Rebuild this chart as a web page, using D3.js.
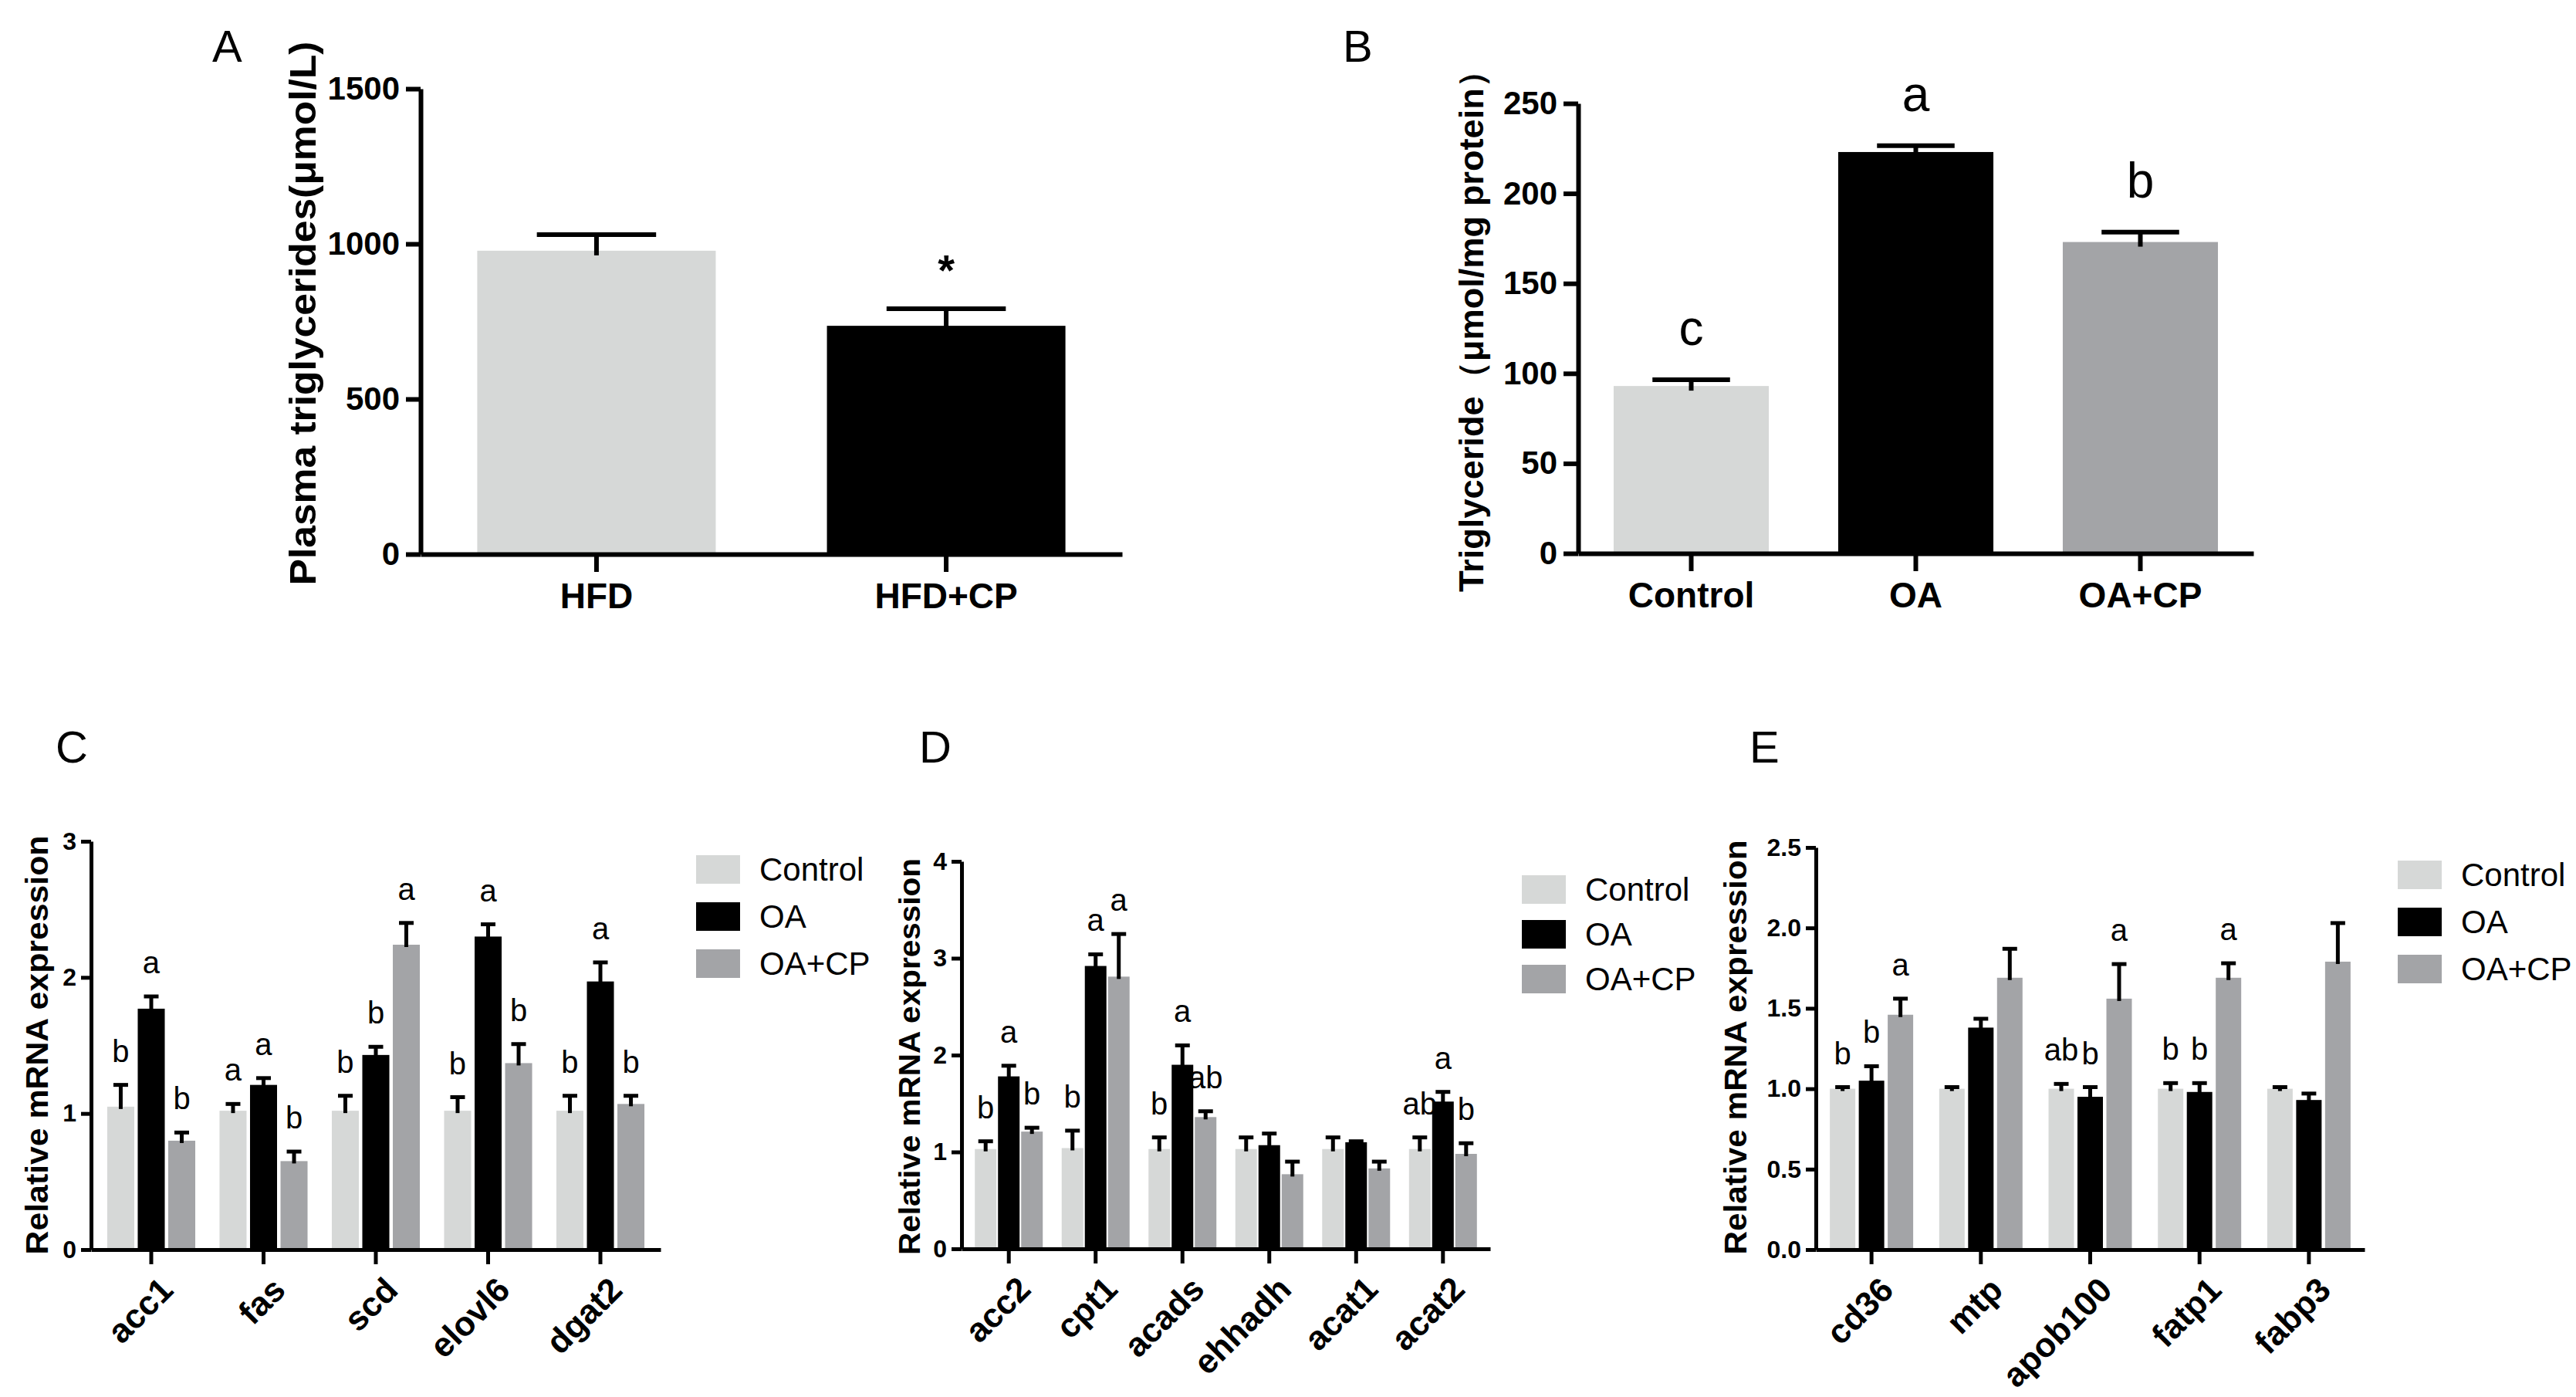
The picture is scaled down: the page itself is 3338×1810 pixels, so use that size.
<!DOCTYPE html>
<html>
<head>
<meta charset="utf-8">
<script src="https://cdn.jsdelivr.net/npm/d3@7"></script>
<style>
  body { margin: 0; background: #fff; }
  svg { display: block; font-family: "Liberation Sans", Arial, sans-serif; }
</style>
</head>
<body>
<svg width="3338" height="1810"></svg>
<script>
// ---- data ----
const series = ["Control", "OA", "OA+CP"];
const colors = ["#d6d8d7", "#000000", "#a3a4a7"];

const groupsA = ["HFD", "HFD+CP"];
const meanA = [978, 736];
const semA = [52, 55];
const ticksA = [0, 500, 1000, 1500];

const groupsB = ["Control", "OA", "OA+CP"];
const meanB = [93, 223, 173];
const semB = [3.5, 3.5, 5.5];
const lettersB = ["c", "a", "b"];
const ticksB = [0, 50, 100, 150, 200, 250];

const genesC = ["acc1", "fas", "scd", "elovl6", "dgat2"];
const ctrlC = [1.05, 1.02, 1.02, 1.02, 1.02];
const oaC = [1.77, 1.21, 1.43, 2.30, 1.97];
const cpC = [0.80, 0.65, 2.24, 1.37, 1.07];
const ctrlSemC = [0.16, 0.05, 0.11, 0.10, 0.11];
const oaSemC = [0.09, 0.05, 0.06, 0.09, 0.14];
const cpSemC = [0.06, 0.07, 0.16, 0.14, 0.06];
const ctrlLetC = ["b", "a", "b", "b", "b"];
const oaLetC = ["a", "a", "b", "a", "a"];
const cpLetC = ["b", "b", "a", "b", "b"];
const ticksC = [0, 1, 2, 3];

const genesD = ["acc2", "cpt1", "acads", "ehhadh", "acat1", "acat2"];
const ctrlD = [1.03, 1.04, 1.03, 1.03, 1.03, 1.03];
const oaD = [1.78, 2.92, 1.90, 1.07, 1.10, 1.52];
const cpD = [1.21, 2.81, 1.36, 0.77, 0.83, 0.98];
const ctrlSemD = [0.08, 0.18, 0.12, 0.12, 0.12, 0.12];
const oaSemD = [0.11, 0.12, 0.20, 0.12, 0.01, 0.10];
const cpSemD = [0.04, 0.44, 0.06, 0.13, 0.07, 0.11];
const ctrlLetD = ["b", "b", "b", "", "", "ab"];
const oaLetD = ["a", "a", "a", "", "", "a"];
const cpLetD = ["b", "a", "ab", "", "", "b"];
const ticksD = [0, 1, 2, 3, 4];

const genesE = ["cd36", "mtp", "apob100", "fatp1", "fabp3"];
const ctrlE = [1.0, 1.0, 1.0, 1.0, 1.0];
const oaE = [1.05, 1.38, 0.95, 0.98, 0.93];
const cpE = [1.46, 1.69, 1.56, 1.69, 1.79];
const ctrlSemE = [0.01, 0.01, 0.03, 0.035, 0.01];
const oaSemE = [0.09, 0.055, 0.06, 0.055, 0.04];
const cpSemE = [0.10, 0.18, 0.215, 0.09, 0.24];
const ctrlLetE = ["b", "", "ab", "b", ""];
const oaLetE = ["b", "", "b", "b", ""];
const cpLetE = ["a", "", "a", "a", ""];
const ticksE = [0, 0.5, 1.0, 1.5, 2.0, 2.5];

const svg = d3.select("svg");
svg.append("rect").attr("width", 3338).attr("height", 1810).attr("fill", "#fff");

function styleAxis(g, sw, fs) {
    g.selectAll("path, line").attr("stroke", "#000").attr("stroke-width", sw);
    g.selectAll("text").attr("fill", "#000").style("font-size", fs + "px").style("font-weight", "bold");
}

function yTitle(text, cx, cy, fs, len) {
    svg.append("text")
        .attr("transform", `translate(${cx},${cy}) rotate(-90)`)
        .attr("dy", "0.35em")
        .attr("text-anchor", "middle")
        .attr("textLength", len)
        .attr("lengthAdjust", "spacingAndGlyphs")
        .style("font-size", fs + "px")
        .style("font-weight", "bold")
        .text(text);
}

function panelLabel(t, x, y) {
    svg.append("text").attr("x", x).attr("y", y)
        .style("font-size", "58px").text(t);
}

// simple bar chart (panels A, B)
function simplePanel(o) {
    const x = d3.scaleBand().domain(o.groups).range(o.xr)
        .paddingInner(o.pi).paddingOuter(o.po);
    const y = d3.scaleLinear().domain([0, o.max]).range(o.yr);
    const g = svg.append("g");
    const bw = x.bandwidth();

    g.selectAll("rect.bar").data(o.groups).join("rect")
        .attr("x", d => x(d))
        .attr("y", (d, i) => y(o.mean[i]))
        .attr("width", bw)
        .attr("height", (d, i) => y(0) - y(o.mean[i]))
        .attr("fill", (d, i) => o.fill[i]);

    const eb = g.selectAll("g.err").data(o.groups).join("g");
    eb.append("line")
        .attr("x1", d => x(d) + bw / 2).attr("x2", d => x(d) + bw / 2)
        .attr("y1", (d, i) => y(o.mean[i]) + 6)
        .attr("y2", (d, i) => y(o.mean[i] + o.sem[i]))
        .attr("stroke", "#000").attr("stroke-width", 6);
    eb.append("line")
        .attr("x1", d => x(d) + bw / 4).attr("x2", d => x(d) + bw * 3 / 4)
        .attr("y1", (d, i) => y(o.mean[i] + o.sem[i]))
        .attr("y2", (d, i) => y(o.mean[i] + o.sem[i]))
        .attr("stroke", "#000").attr("stroke-width", 6);

    g.selectAll("text.lab").data(o.groups).join("text")
        .attr("x", d => x(d) + bw / 2)
        .attr("y", (d, i) => y(o.mean[i] + o.sem[i]) - o.labOff)
        .attr("text-anchor", "middle")
        .style("font-size", o.labSize + "px")
        .style("font-weight", o.labBold ? "bold" : "normal")
        .text((d, i) => o.labels[i]);

    const ya = g.append("g").attr("transform", `translate(${o.xr[0]},0)`)
        .call(d3.axisLeft(y).tickValues(o.ticks).tickSize(19).tickSizeOuter(0).tickPadding(8)
            .tickFormat(d3.format("d")));
    styleAxis(ya, 6, 42);
    const xa = g.append("g").attr("transform", `translate(0,${y(0)})`)
        .call(d3.axisBottom(x).tickSize(23).tickSizeOuter(0).tickPadding(14));
    styleAxis(xa, 6, 46);
}

// grouped bar chart (panels C, D, E)
function groupedPanel(o) {
    const x0 = d3.scaleBand().domain(o.genes).range(o.xr)
        .paddingInner(o.pi).paddingOuter(o.po);
    const x1 = d3.scaleBand().domain(series).range([0, x0.bandwidth()]).paddingInner(o.pb);
    const y = d3.scaleLinear().domain([0, o.max]).range(o.yr);
    const g = svg.append("g");
    const bw = x1.bandwidth();

    const rows = [];
    o.genes.forEach((gene, gi) => {
        series.forEach((s, si) => {
            rows.push({gene, s, si, v: o.means[si][gi], e: o.sems[si][gi], l: o.lets[si][gi]});
        });
    });
    const cx = d => x0(d.gene) + x1(d.s) + bw / 2;

    g.selectAll("rect.bar").data(rows).join("rect")
        .attr("x", d => x0(d.gene) + x1(d.s))
        .attr("y", d => y(d.v))
        .attr("width", bw)
        .attr("height", d => y(0) - y(d.v))
        .attr("fill", d => colors[d.si]);

    g.selectAll("line.stem").data(rows).join("line")
        .attr("x1", cx).attr("x2", cx)
        .attr("y1", d => y(d.v) + 3)
        .attr("y2", d => y(d.v + d.e))
        .attr("stroke", "#000").attr("stroke-width", 5);
    g.selectAll("line.cap").data(rows).join("line")
        .attr("x1", d => cx(d) - 9.5).attr("x2", d => cx(d) + 9.5)
        .attr("y1", d => y(d.v + d.e)).attr("y2", d => y(d.v + d.e))
        .attr("stroke", "#000").attr("stroke-width", 5);

    g.selectAll("text.let").data(rows.filter(d => d.l)).join("text")
        .attr("x", cx)
        .attr("y", d => y(d.v + d.e) - 30)
        .attr("text-anchor", "middle")
        .style("font-size", "40px")
        .text(d => d.l);

    const ya = g.append("g").attr("transform", `translate(${o.xr[0]},0)`)
        .call(d3.axisLeft(y).tickValues(o.ticks).tickSize(13).tickSizeOuter(0).tickPadding(6)
            .tickFormat(o.fmt));
    styleAxis(ya, 5, 32);
    const xa = g.append("g").attr("transform", `translate(0,${y(0)})`)
        .call(d3.axisBottom(x0).tickSize(19).tickSizeOuter(0));
    styleAxis(xa, 5, 44);
    xa.selectAll("text")
        .attr("x", 0).attr("y", 0).attr("dy", "0.35em")
        .attr("transform", "translate(20,44) rotate(-45)")
        .style("text-anchor", "end");

    // legend
    const lg = g.append("g");
    series.forEach((s, i) => {
        lg.append("rect")
            .attr("x", o.leg[0]).attr("y", o.leg[1] + i * o.leg[2])
            .attr("width", 57).attr("height", 37).attr("fill", colors[i]);
        lg.append("text")
            .attr("x", o.leg[0] + 82).attr("y", o.leg[1] + i * o.leg[2] + 18.5)
            .attr("dy", "0.35em")
            .style("font-size", "42px")
            .text(s);
    });
}

// ---- panel A ----
simplePanel({
    groups: groupsA, mean: meanA, sem: semA, max: 1500, ticks: ticksA,
    xr: [545, 1454], yr: [718, 115], pi: 0.318, po: 0.162,
    fill: [colors[0], colors[1]], labels: ["", "*"], labOff: 31, labSize: 56, labBold: true
});
yTitle("Plasma triglycerides(\u03bcmol/L)", 392, 406, 48, 705);
panelLabel("A", 275, 80);

// ---- panel B ----
simplePanel({
    groups: groupsB, mean: meanB, sem: semB, max: 250, ticks: ticksB,
    xr: [2045, 2920], yr: [717, 134], pi: 0.309, po: 0.158,
    fill: colors, labels: lettersB, labOff: 45, labSize: 64, labBold: false
});
yTitle("Triglyceride\uff08\u03bcmol/mg protein\uff09", 1907, 418, 44, 698);
panelLabel("B", 1740, 80);

// ---- panel C ----
groupedPanel({
    genes: genesC, means: [ctrlC, oaC, cpC], sems: [ctrlSemC, oaSemC, cpSemC],
    lets: [ctrlLetC, oaLetC, cpLetC], max: 3, ticks: ticksC, fmt: d3.format("d"),
    xr: [118, 856], yr: [1619, 1090], pi: 0.216, po: 0.144, pb: 0.114,
    leg: [902, 1108, 61]
});
yTitle("Relative mRNA expression", 48, 1354, 40, 543);
panelLabel("C", 72, 988);

// ---- panel D ----
groupedPanel({
    genes: genesD, means: [ctrlD, oaD, cpD], sems: [ctrlSemD, oaSemD, cpSemD],
    lets: [ctrlLetD, oaLetD, cpLetD], max: 4, ticks: ticksD, fmt: d3.format("d"),
    xr: [1246, 1931], yr: [1618, 1116], pi: 0.218, po: 0.153, pb: 0.067,
    leg: [1972, 1134, 58]
});
yTitle("Relative mRNA expression", 1179, 1369, 38, 514);
panelLabel("D", 1191, 988);

// ---- panel E ----
groupedPanel({
    genes: genesE, means: [ctrlE, oaE, cpE], sems: [ctrlSemE, oaSemE, cpSemE],
    lets: [ctrlLetE, oaLetE, cpLetE], max: 2.5, ticks: ticksE, fmt: d3.format(".1f"),
    xr: [2353, 3064], yr: [1619, 1098], pi: 0.238, po: 0.128, pb: 0.12,
    leg: [3107, 1115, 61]
});
yTitle("Relative mRNA expression", 2249, 1357, 40, 537);
panelLabel("E", 2267, 988);
</script>
</body>
</html>
